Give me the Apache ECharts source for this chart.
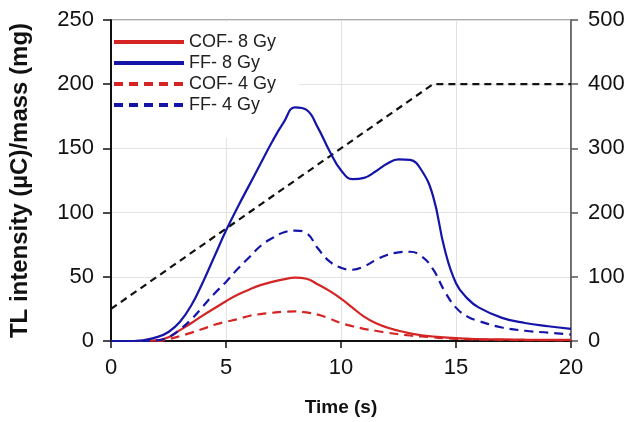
<!DOCTYPE html>
<html>
<head>
<meta charset="utf-8">
<script src="https://cdn.jsdelivr.net/npm/echarts@6/dist/echarts.min.js"></script>
<style>html,body{margin:0;padding:0;background:#fff}#c{width:632px;height:422px}</style>
</head>
<body>
<div id="c"></div>
<script>
var times = [0,1,2,2.5,3,3.5,4,4.5,5,5.5,6,6.5,7,7.5,8,8.5,9,9.5,10,10.5,11,11.5,12,12.5,13,13.5,14,14.5,15,15.5,16,17,18,19,20];
var cof8 = [0,0,0.5,3,8.5,14,20,25.5,31,36,40,43.5,46,48,49.3,48.5,44,39,33,26,19,14,10.5,8,6,4.5,3.5,2.8,2.2,1.8,1.5,1.2,1,0.9,0.8];
var ff8  = [0,0,3,7,15,28,46,66,86,104,121,138,155,170,182,180,166,148,133,126,127,132,138,141.5,141,133,113,72,45,33,26,18,14,11.5,9.5];
var cof4 = [0,0,0,1.5,3.8,6.5,9.5,12.6,15,17,19.5,21,22,22.8,23,22.3,20.5,17.5,14,11.5,9.5,8,6.5,5.3,4.3,3.5,2.8,2.2,1.7,1.4,1.2,0.9,0.7,0.6,0.5];
var ff4  = [0,0,0.5,3,9,17,27,37,46,56,65,74,80,84.5,86,84,72,62,57,55.5,58,63,67,69,69.5,66,56,39,26,19,15.5,10.5,8,6.5,5];
var tempTimes = [0,14,20];
var temp = [50,400,400];
var xTicks = [0,5,10,15,20];
var leftTicks = [0,50,100,150,200,250];
var rightTicks = [0,100,200,300,400,500];

function pairs(xs, ys){ return xs.map(function(x,i){ return [x, ys[i]]; }); }
var FONT = '"Liberation Sans", Arial, sans-serif';
var chart = echarts.init(document.getElementById('c'), null, {renderer:'canvas'});
chart.setOption({
  animation:false,
  backgroundColor:'#fff',
  grid:{left:110, right:61, top:20, bottom:79, show:true, borderColor:'#555', borderWidth:1},
  legend:{
    left:112, top:22, orient:'vertical', z:4,
    padding:[11,23,24,0],
    backgroundColor:'#fff',
    itemWidth:70, itemHeight:18, itemGap:3,
    itemStyle:{opacity:0},
    lineStyle:{width:4},
    textStyle:{fontFamily:FONT, fontSize:18, color:'#222'},
    data:['COF- 8 Gy','FF- 8 Gy','COF- 4 Gy','FF- 4 Gy']
  },
  xAxis:{
    type:'value', min:0, max:20, interval:5,
    axisLine:{lineStyle:{color:'#111', width:2}},
    axisTick:{length:7, lineStyle:{color:'#111', width:1.5}},
    axisLabel:{fontFamily:FONT, fontSize:22, color:'#111', margin:16},
    splitLine:{show:true, lineStyle:{color:'#e2e2e2', width:1}},
    name:'Time (s)', nameLocation:'middle', nameGap:57,
    nameTextStyle:{fontFamily:FONT, fontSize:19, fontWeight:'bold', color:'#111'}
  },
  yAxis:[{
    type:'value', min:0, max:250, interval:50,
    axisLine:{show:true, lineStyle:{color:'#111', width:2}},
    axisTick:{show:true, length:8, lineStyle:{color:'#111', width:1.5}},
    axisLabel:{fontFamily:FONT, fontSize:22, color:'#111', margin:17},
    splitLine:{show:true, lineStyle:{color:'#e2e2e2', width:1}},
    name:'TL intensity (µC)/mass (mg)', nameLocation:'middle', nameGap:79,
    nameTextStyle:{fontFamily:FONT, fontSize:24, fontWeight:'bold', color:'#111'}
  },{
    type:'value', min:0, max:500, interval:100, position:'right',
    axisLine:{show:true, lineStyle:{color:'#555', width:1.5}},
    axisTick:{show:true, length:7, lineStyle:{color:'#555', width:1.5}},
    axisLabel:{fontFamily:FONT, fontSize:22, color:'#111', margin:17},
    splitLine:{show:false}
  }],
  series:[
    {name:'COF- 8 Gy', type:'line', data:pairs(times,cof8), smooth:0.45, symbol:'none',
     lineStyle:{color:'#d42424', width:2.2}, itemStyle:{color:'#d42424'}, z:6},
    {name:'FF- 8 Gy', type:'line', data:pairs(times,ff8), smooth:0.45, symbol:'none',
     lineStyle:{color:'#1414a8', width:2.2}, itemStyle:{color:'#1414a8'}, z:6},
    {name:'COF- 4 Gy', type:'line', data:pairs(times,cof4), smooth:0.45, symbol:'none',
     lineStyle:{color:'#d42424', width:2.2, type:[9,6]}, itemStyle:{color:'#d42424'}, z:6},
    {name:'FF- 4 Gy', type:'line', data:pairs(times,ff4), smooth:0.45, symbol:'none',
     lineStyle:{color:'#1414a8', width:2.2, type:[9,6]}, itemStyle:{color:'#1414a8'}, z:6},
    {name:'Temperature', type:'line', yAxisIndex:1, data:pairs(tempTimes,temp), symbol:'none',
     lineStyle:{color:'#111', width:2.2, type:[7,5]}, itemStyle:{color:'#111'}, z:5}
  ]
});
</script>
</body>
</html>
